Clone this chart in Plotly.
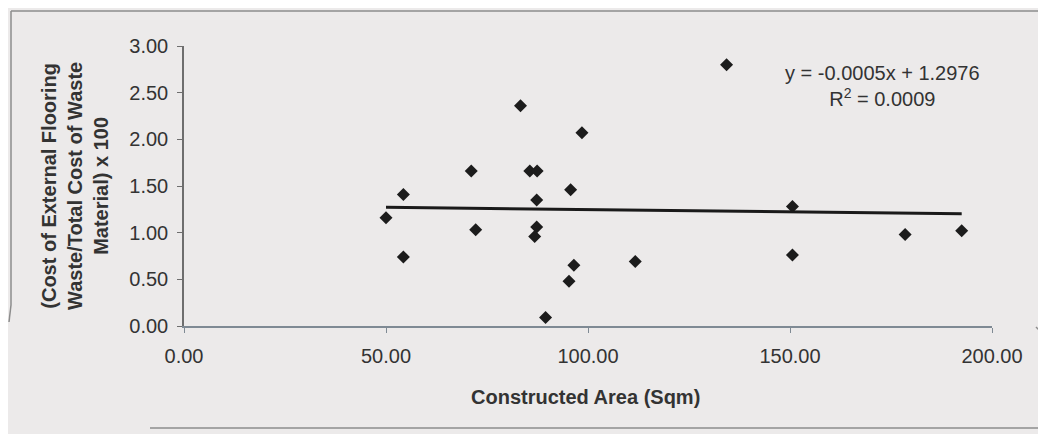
import plotly.graph_objects as go

# ---- data ----
constructed_area = [50.0, 54.3, 54.3, 71.1, 72.2, 83.3, 85.6, 87.4, 87.3, 87.3, 86.8,
                    89.5, 95.7, 98.5, 96.5, 95.3, 134.3, 111.7, 150.6, 150.6, 178.5, 192.5]
waste_ratio = [1.16, 1.41, 0.74, 1.66, 1.03, 2.36, 1.66, 1.66, 1.35, 1.06, 0.96,
               0.09, 1.46, 2.07, 0.65, 0.48, 2.80, 0.69, 1.28, 0.76, 0.98, 1.02]
trend_slope = -0.0005
trend_intercept = 1.2976
r_squared = 0.0009
x_ticks = [0, 50, 100, 150, 200]
y_ticks = [0, 0.5, 1.0, 1.5, 2.0, 2.5, 3.0]

# ---- layout geometry (page body has an 8px margin) ----
OFF = 8
W, H = 1046 - OFF, 434 - OFF
L, R, T, B = 184 - OFF, 54, 46 - OFF, 108
pw, ph = W - L - R, H - T - B


def px(x):
    """screen x pixel -> paper x"""
    return (x - OFF - L) / pw


def py(y):
    """screen y pixel -> paper y"""
    return (H - B - (y - OFF)) / ph


BG = "#eceaea"
TXT = "#333333"
FONT = "Liberation Sans, Arial, sans-serif"
FRAME = "#8c8c8c"

fig = go.Figure()

fig.add_trace(go.Scatter(
    x=constructed_area, y=waste_ratio, mode="markers",
    marker=dict(symbol="diamond", size=10, color="#1c1c1c"),
    showlegend=False, hoverinfo="x+y",
))

tx = [min(constructed_area), max(constructed_area)]
ty = [trend_slope * v + trend_intercept for v in tx]
fig.add_trace(go.Scatter(
    x=tx, y=ty, mode="lines", line=dict(color="#1a1a1a", width=3),
    showlegend=False, hoverinfo="skip",
))


def seg(x0, y0, x1, y1):
    return dict(type="line", xref="paper", yref="paper",
                x0=px(x0), y0=py(y0), x1=px(x1), y1=py(y1),
                line=dict(color=FRAME, width=1.5))


fig.update_layout(
    width=W, height=H,
    margin=dict(l=L, r=R, t=T, b=B, autoexpand=False),
    paper_bgcolor=BG, plot_bgcolor=BG,
    font=dict(family=FONT, color=TXT, size=20),
    xaxis=dict(
        range=[0, 200], tickvals=x_ticks, tickformat=".2f",
        showgrid=False, zeroline=False,
        showline=True, linecolor="#7f8a94", linewidth=1.5,
        ticks="outside", ticklen=5, tickcolor="#7f8a94",
        ticklabelstandoff=6,
        tickfont=dict(size=20, color=TXT),
    ),
    yaxis=dict(
        range=[0, 3], tickvals=y_ticks, tickformat=".2f",
        showgrid=False, zeroline=False,
        showline=True, linecolor="#6e6e6e", linewidth=1.5,
        ticks="outside", ticklen=5, tickcolor="#6e6e6e",
        ticklabelstandoff=5,
        tickfont=dict(size=20, color=TXT),
    ),
    annotations=[
        dict(text="Constructed Area (Sqm)", xref="paper", yref="paper",
             x=px(585), y=py(397), xanchor="center", yanchor="middle",
             showarrow=False, font=dict(size=20, color=TXT, family=FONT, weight="bold")),
        dict(text="(Cost of External Flooring<br>Waste/Total Cost of Waste<br>Material) x 100",
             xref="paper", yref="paper", x=px(75), y=py(186), textangle=-90,
             xanchor="center", yanchor="middle", showarrow=False,
             font=dict(size=20, color=TXT, family=FONT, weight="bold")),
        dict(text=f"y = {trend_slope:.4f}x + {trend_intercept:.4f}<br>R<sup>2</sup> = {r_squared:.4f}",
             xref="paper", yref="paper", x=px(882), y=py(86),
             xanchor="center", yanchor="middle", showarrow=False, align="center",
             font=dict(size=20, color=TXT, family=FONT)),
    ],
    shapes=[
        seg(11, 11, 11, 305),
        seg(11, 305, 9, 322),
        seg(11, 11, 1046, 11),
        seg(1036, 327, 1042, 333),
        seg(1042, 333, 1042, 428),
        seg(150, 428, 1042, 428),
    ],
)

fig.write_html("out.html")
